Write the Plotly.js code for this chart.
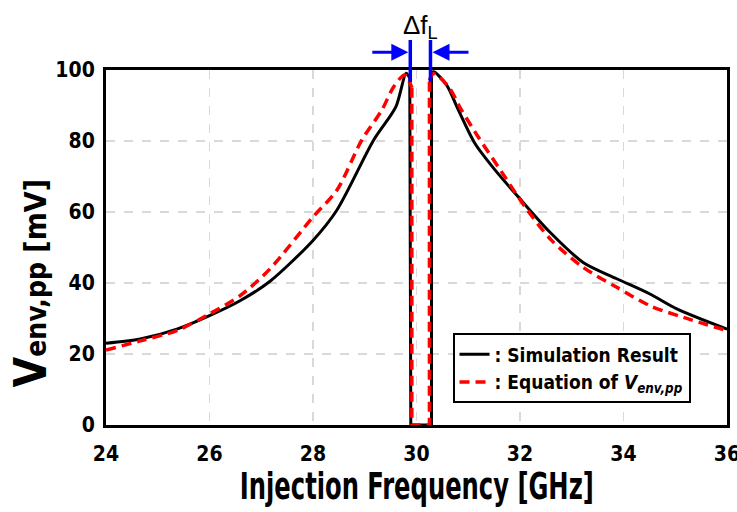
<!DOCTYPE html>
<html>
<head>
<meta charset="utf-8">
<script src="https://cdn.plot.ly/plotly-3.0.1.min.js"></script>
<style>html,body{margin:0;padding:0;background:#fff;}#chart{width:737px;height:512px;}</style>
</head>
<body>
<div id="chart"></div>
<script>
// Simulation result (black solid)
const simFreq = [24.0, 24.66, 25.37, 26.0, 26.59, 27.17, 28.0, 28.46, 29.17, 29.6, 29.8, 29.87, 29.89, 30.29, 30.29, 30.33, 30.58, 30.81, 31.13, 31.52, 31.97, 32.58, 33.22, 33.87, 34.51, 35.03, 36.0];
const simV    = [23.0, 24.2, 27.0, 30.8, 35.0, 40.5, 52.0, 60.5, 80.2, 89.6, 99.1, 97.7, 0, 0, 98.5, 99.5, 95.8, 88.7, 79.3, 71.8, 64.2, 54.3, 45.8, 41.2, 36.9, 32.7, 27.0];
// Equation of V_env,pp (red dashed)
const eqFreq = [24.0, 24.66, 25.37, 26.0, 26.59, 27.17, 28.0, 28.46, 28.94, 29.33, 29.56, 29.77, 29.91, 29.91, 30.25, 30.25, 30.33, 30.62, 30.87, 31.19, 31.58, 32.1, 32.61, 33.22, 33.87, 34.51, 35.16, 36.0];
const eqV    = [21.1, 23.7, 26.6, 31.3, 36.4, 44.0, 58.6, 66.1, 80.2, 88.7, 95.3, 98.6, 95.0, 0, 0, 97.0, 99.0, 95.3, 88.7, 81.2, 72.7, 61.4, 52.0, 44.4, 38.8, 33.6, 30.3, 26.6];
// Locking range edges (blue markers)
const lockEdges = [29.88, 30.27];
const legendNames = [": Simulation Result", ": Equation of <i>V<sub>env,pp</sub></i>"];
const xTicks = [24, 26, 28, 30, 32, 34, 36];
const yTicks = [0, 20, 40, 60, 80, 100];

const F = "'DejaVu Sans Condensed', 'DejaVu Sans', sans-serif";

// split a series into smooth left branch, straight locked-range drop, smooth right branch
function pieces(xs, ys, name, group, line) {
  const z0 = ys.indexOf(0), z1 = ys.lastIndexOf(0);
  const a = z0 - 1, b = z1 + 1;
  const base = {mode: 'lines', legendgroup: group, name: name};
  return [
    Object.assign({}, base, {x: xs.slice(0, a + 1), y: ys.slice(0, a + 1), showlegend: true,
      line: Object.assign({}, line, {shape: 'spline', smoothing: 0.8})}),
    Object.assign({}, base, {x: xs.slice(a, b + 1), y: ys.slice(a, b + 1), showlegend: false,
      line: Object.assign({}, line, {shape: 'linear'})}),
    Object.assign({}, base, {x: xs.slice(b), y: ys.slice(b), showlegend: false,
      line: Object.assign({}, line, {shape: 'spline', smoothing: 0.8})})
  ];
}

const traces = [].concat(
  pieces(simFreq, simV, legendNames[0], 'sim', {color: '#000', width: 3}),
  pieces(eqFreq, eqV, legendNames[1], 'eq', {color: '#ff0000', width: 3.5, dash: '10px,6px'})
);

const blue = '#0000ff';
const arrowY = 1.05;
const shapes = [];
lockEdges.forEach((e, i) => {
  const s = i === 0 ? -1 : 1;
  shapes.push({type: 'line', xref: 'x', yref: 'paper', x0: e, x1: e, y0: 0.966, y1: 1.0845,
    line: {color: blue, width: 3.5}});
  shapes.push({type: 'line', xref: 'x', xsizemode: 'pixel', xanchor: e, yref: 'paper',
    x0: s * 38, x1: s * 16, y0: arrowY, y1: arrowY, line: {color: blue, width: 3}});
  shapes.push({type: 'path', xref: 'x', xsizemode: 'pixel', xanchor: e, yref: 'paper', ysizemode: 'pixel', yanchor: arrowY,
    path: `M${s * 2},0 L${s * 19},8.5 L${s * 19},-8.5 Z`, fillcolor: blue, line: {color: blue, width: 0}});
});

const annotations = [
  {x: (lockEdges[0] + lockEdges[1]) / 2, y: 1.1746, xref: 'x', yref: 'paper', yanchor: 'top', text: 'Δf<sub>L</sub>',
   showarrow: false, font: {family: "'Liberation Sans', Arial, sans-serif", size: 26, color: '#000'}},
  {x: 0.5, y: -0.172, xref: 'paper', yref: 'paper', xanchor: 'center', yanchor: 'middle',
   text: 'Injection Frequency [GHz]', showarrow: false,
   font: {family: F, size: 38, color: '#000', weight: 'bold'}},
  {x: -0.1216, y: 0.4, xref: 'paper', yref: 'paper', xanchor: 'center', yanchor: 'middle', textangle: -90,
   text: '<span style="font-size:44px">V</span><span style="font-size:28px">env,pp</span> [mV]', showarrow: false,
   font: {family: F, size: 30, color: '#000', weight: 'bold'}}
];

const axisCommon = {
  showline: true, linecolor: '#000', linewidth: 3, mirror: true, ticks: '',
  showgrid: true, gridcolor: '#d9d9d9', gridwidth: 1.5, griddash: 'dash', zeroline: false,
  ticklabeloverflow: 'allow',
  tickfont: {family: F, size: 21, color: '#000', weight: 'bold'}
};

const layout = {
  width: 737, height: 512,
  margin: {l: 106, r: 10, t: 70, b: 87},
  paper_bgcolor: '#fff', plot_bgcolor: '#fff',
  showlegend: true,
  legend: {x: 0.558, y: 0.258, xanchor: 'left', yanchor: 'top', bgcolor: '#fff',
    bordercolor: '#000', borderwidth: 2, font: {family: F, size: 19, color: '#000', weight: 'bold'},
    tracegroupgap: 0, itemwidth: 30, traceorder: 'normal'},
  xaxis: Object.assign({range: [24, 36], tickvals: xTicks, ticktext: xTicks.map(String), ticklabelstandoff: 8}, axisCommon),
  yaxis: Object.assign({range: [0, 100], tickvals: yTicks, ticktext: yTicks.map(String), ticklabelstandoff: 4}, axisCommon),
  shapes: shapes,
  annotations: annotations
};

Plotly.newPlot('chart', traces, layout, {displayModeBar: false, staticPlot: true}).then(gd => {
  gd.querySelectorAll('.annotation-text').forEach(t => {
    if (t.textContent === 'Injection Frequency [GHz]') {
      t.setAttribute('textLength', 354);
      t.setAttribute('lengthAdjust', 'spacingAndGlyphs');
    }
  });
});
</script>
</body>
</html>
